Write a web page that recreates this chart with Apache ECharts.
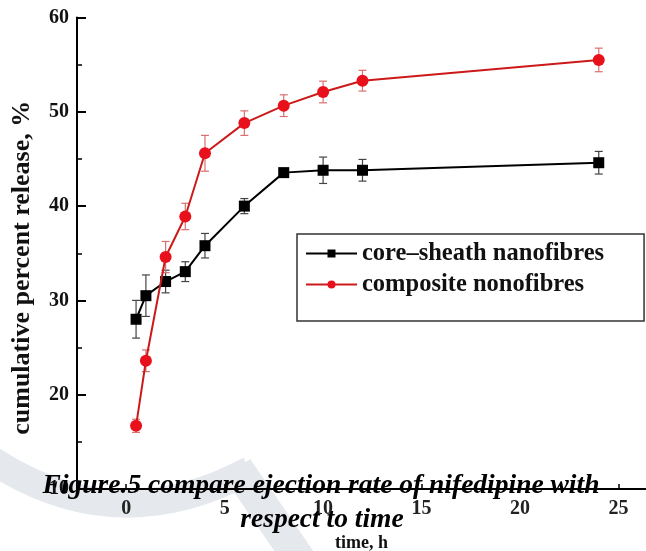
<!DOCTYPE html>
<html>
<head>
<meta charset="utf-8">
<script src="https://cdn.jsdelivr.net/npm/echarts@6/dist/echarts.min.js"></script>
<style>
html, body { margin: 0; padding: 0; background: #fff; }
#chart { width: 646px; height: 551px; }
</style>
</head>
<body>
<div id="chart"></div>
<script>
// release time points (h) and measured cumulative release (%)
const timeH = [0.5, 1, 2, 3, 4, 6, 8, 10, 12, 24];
const coreSheath = [28.0, 30.5, 32.0, 33.05, 35.8, 40.0, 43.55, 43.8, 43.8, 44.6];
const coreSheathErr = [2.0, 2.2, 1.2, 1.05, 1.3, 0.8, 0.3, 1.4, 1.15, 1.2];
const composite = [16.7, 23.6, 34.6, 38.9, 45.6, 48.8, 50.65, 52.1, 53.3, 55.5];
const compositeErr = [0.7, 1.15, 1.65, 1.4, 1.9, 1.3, 1.15, 1.15, 1.1, 1.25];
const xTicks = [0, 5, 10, 15, 20, 25];
const seriesNames = ['core\u2013sheath nanofibres', 'composite nonofibres'];

const serif = '"Liberation Serif", "Times New Roman", serif';

// error bars drawn with a custom series
function errBar(values, errs, color) {
  return {
    type: 'custom',
    silent: true,
    z: 1,
    data: timeH.map((t, i) => [t, values[i] - errs[i], values[i] + errs[i]]),
    renderItem: function (params, api) {
      const lo = api.coord([api.value(0), api.value(1)]);
      const hi = api.coord([api.value(0), api.value(2)]);
      const w = 4;
      const st = { stroke: color, lineWidth: 1.2 };
      return {
        type: 'group',
        children: [
          { type: 'line', shape: { x1: lo[0], y1: lo[1], x2: hi[0], y2: hi[1] }, style: st },
          { type: 'line', shape: { x1: lo[0] - w, y1: lo[1], x2: lo[0] + w, y2: lo[1] }, style: st },
          { type: 'line', shape: { x1: hi[0] - w, y1: hi[1], x2: hi[0] + w, y2: hi[1] }, style: st }
        ]
      };
    }
  };
}

const myChart = echarts.init(document.getElementById('chart'));
const option = {
  animation: false,
  backgroundColor: '#fff',
  grid: { left: 77, top: 17.5, width: 569, height: 471.5, outerBoundsMode: 'none' },
  legend: {
    data: seriesNames,
    orient: 'vertical',
    left: 297,
    top: 234,
    itemWidth: 51,
    itemHeight: 10,
    itemGap: 6,
    padding: [7, 40, 24, 8],
    borderColor: '#333',
    borderWidth: 1.5,
    textStyle: { fontFamily: serif, fontWeight: 'bold', fontSize: 24.5, lineHeight: 24, color: '#111' }
  },
  xAxis: {
    type: 'value',
    min: -2.5,
    max: 26.4,
    name: 'time, h',
    nameLocation: 'middle',
    nameGap: 45,
    nameTextStyle: { fontFamily: serif, fontWeight: 'bold', fontSize: 18, color: '#111' },
    axisLine: { onZero: false, lineStyle: { color: '#000', width: 2 } },
    axisTick: { inside: true, length: 5, customValues: xTicks, lineStyle: { color: '#000', width: 1.5 } },
    axisLabel: { customValues: xTicks, fontFamily: serif, fontWeight: 'bold', fontSize: 20, color: '#222', margin: 10 },
    splitLine: { show: false }
  },
  yAxis: {
    type: 'value',
    min: 10,
    max: 60,
    interval: 10,
    name: 'cumulative percent release, %',
    nameLocation: 'middle',
    nameGap: 42,
    nameTextStyle: { fontFamily: serif, fontWeight: 'bold', fontSize: 26, color: '#111', padding: [0, 29, 0, 0] },
    axisLine: { show: true, onZero: false, lineStyle: { color: '#000', width: 2 } },
    axisTick: { inside: true, length: 9, lineStyle: { color: '#000', width: 2 } },
    minorTick: { show: true, splitNumber: 2, length: 5, lineStyle: { color: '#000', width: 1.5 } },
    axisLabel: { fontFamily: serif, fontWeight: 'bold', fontSize: 20, color: '#111', margin: 8 },
    splitLine: { show: false }
  },
  graphic: [
    // faint watermark behind the plot
    { type: 'bezierCurve', z: -1, silent: true,
      shape: { x1: -20, y1: 452, cpx1: 110, cpy1: 545, x2: 250, y2: 470 },
      style: { stroke: '#e5e8ec', lineWidth: 28, fill: null } },
    { type: 'line', z: -1, silent: true,
      shape: { x1: 237, y1: 468, x2: 300, y2: 560 },
      style: { stroke: '#e5e8ec', lineWidth: 32 } },
    // figure caption over the axis
    { type: 'text', z: 100,
      style: { text: 'Figure.5 compare ejection rate of nifedipine with', x: 321, y: 486,
        font: 'italic bold 27.5px ' + serif, fill: '#000', align: 'center', verticalAlign: 'middle' } },
    { type: 'text', z: 100,
      style: { text: 'respect to time', x: 322, y: 520,
        font: 'italic bold 27.5px ' + serif, fill: '#000', align: 'center', verticalAlign: 'middle' } }
  ],
  series: [
    errBar(coreSheath, coreSheathErr, '#444'),
    errBar(composite, compositeErr, '#d87070'),
    {
      name: seriesNames[0],
      type: 'line',
      data: timeH.map((t, i) => [t, coreSheath[i]]),
      symbol: 'rect',
      symbolSize: 11,
      z: 3,
      itemStyle: { color: '#000' },
      lineStyle: { color: '#000', width: 2 }
    },
    {
      name: seriesNames[1],
      type: 'line',
      data: timeH.map((t, i) => [t, composite[i]]),
      symbol: 'circle',
      symbolSize: 12,
      z: 4,
      itemStyle: { color: '#e8101a' },
      lineStyle: { color: '#cc1a1a', width: 2 }
    }
  ]
};
myChart.setOption(option);
</script>
</body>
</html>
